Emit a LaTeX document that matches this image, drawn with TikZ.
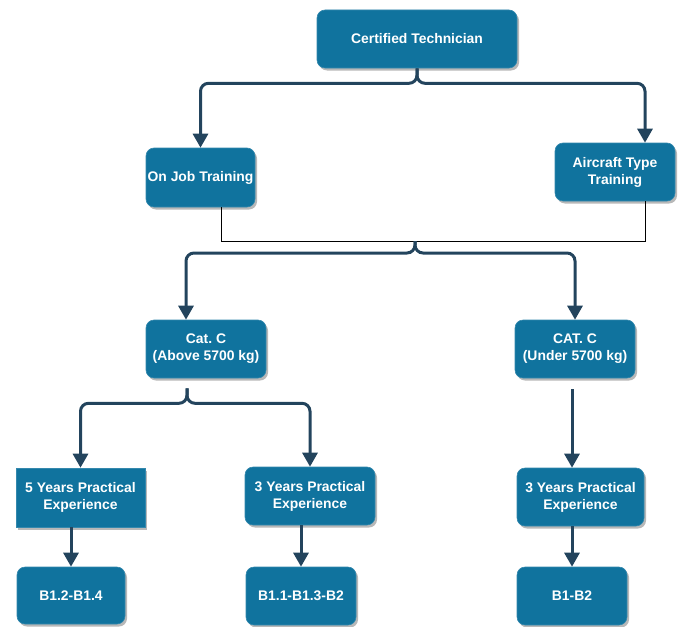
\documentclass[tikz,border=0pt]{standalone}
\usepackage{fontspec}
\setmainfont{Liberation Sans}
\frenchspacing
\usetikzlibrary{arrows.meta,shadows}
\definecolor{boxblue}{HTML}{10739E}
\definecolor{linkblue}{HTML}{23445D}
\tikzset{
  box/.style={fill=boxblue, draw=boxblue!85!white, line width=0.6pt,
    rounded corners=8pt, text=white, align=center, inner sep=0pt,
    font=\bfseries\fontsize{13.9}{17}\selectfont,
    drop shadow={shadow xshift=2pt, shadow yshift=-2.5pt, opacity=0.28, fill=black}},
  squarebox/.style={box, sharp corners},
  link/.style={draw=linkblue, line width=3pt, rounded corners=8pt,
    -{Triangle[width=15pt,length=14pt]}},
  plain/.style={draw=black, line width=0.9pt}
}
\begin{document}
\begin{tikzpicture}[x=1pt,y=-1pt]
  \useasboundingbox (0,0) rectangle (682,626);

  % boxes
  \node[box, minimum width=200pt, minimum height=58pt] (ct) at (417,39) {Certified Technician};
  \node[box, minimum width=109pt, minimum height=59pt] (oj) at (200.5,177.5) {On Job Training};
  \node[box, minimum width=120pt, minimum height=58pt] (at) at (615,172) {Aircraft Type\\Training};
  \node[box, minimum width=120pt, minimum height=58pt] (ca) at (206,349) {Cat. C\\(Above 5700 kg)};
  \node[box, minimum width=120pt, minimum height=58pt] (cu) at (575,349) {CAT. C\\(Under 5700 kg)};
  \node[squarebox, minimum width=129pt, minimum height=59pt] (yf) at (80.5,497.5) {5 Years Practical\\Experience};
  \node[box, minimum width=130pt, minimum height=58pt] (ym) at (310,496) {3 Years Practical\\Experience};
  \node[box, minimum width=127pt, minimum height=58pt] (yr) at (580.5,497) {3 Years Practical\\Experience};
  \node[box, minimum width=108pt, minimum height=57pt] (ba) at (71,595.5) {B1.2-B1.4};
  \node[box, minimum width=110pt, minimum height=58pt] (bb) at (301,596) {B1.1-B1.3-B2};
  \node[box, minimum width=110pt, minimum height=58pt] (bc) at (572,596) {B1-B2};

  % first split
  \draw[link] (ct.south) -- ++(0,15) -| (oj.north);
  \draw[link] (ct.south) -- ++(0,15) -| ([xshift=30pt]at.north);

  % the two trainings join
  \coordinate (mj) at (415,241);
  \draw[plain] ([xshift=20.5pt]oj.south) |- (mj);
  \draw[plain] ([xshift=30pt]at.south) |- (mj);

  % second split
  \draw[link] (mj) -- ++(0,12) -| ([xshift=-20pt]ca.north);
  \draw[link] (mj) -- ++(0,12) -| (cu.north);

  % above 5700 kg
  \coordinate (ms) at ([xshift=-19pt,yshift=-10pt]ca.south);
  \draw[link] (ms) -- ++(0,15) -| (yf.north);
  \draw[link] (ms) -- ++(0,15) -| (ym.north);

  % under 5700 kg
  \coordinate (mu) at ([yshift=-11pt]cu.south);
  \draw[link] (mu -| bc.north) -- (yr.north -| bc.north);

  % experience to licence
  \draw[link] (yf.south -| ba.north) -- (ba.north);
  \draw[link] (ym.south -| bb.north) -- (bb.north);
  \draw[link] (yr.south -| bc.north) -- (bc.north);
\end{tikzpicture}
\end{document}
